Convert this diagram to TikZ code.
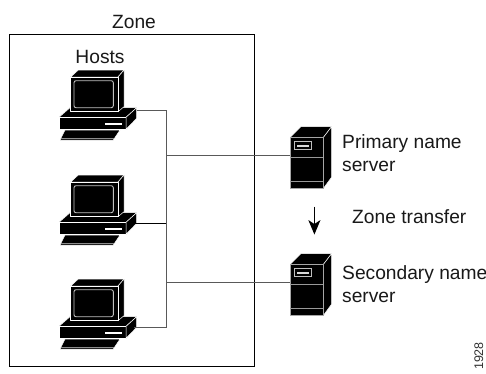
\documentclass[tikz,border=0pt]{standalone}
\usepackage{fontspec}
\setmainfont{Liberation Sans}
\tikzset{
  x=1pt,y=-1pt,
  solidblk/.style={fill=black,draw=white,line width=0.5pt,line join=round},
  whiteline/.style={draw=white!75!black,line width=0.9pt},
  wire/.style={draw=black!65,line width=0.8pt},
  lbl/.style={font=\fontsize{19.2}{23}\selectfont,inner sep=0pt,text=black!90},
  pics/hostpc/.style={code={
    \coordinate (-port) at (19.7,7.5);
    \coordinate (-low) at (17,15);
    \filldraw[solidblk] (-58,14.3)--(-47,4.7)--(19.7,4.7)--(9,14.3)--cycle;
    \filldraw[solidblk] (-58,14.3)--(9,14.3)--(9,26.3)--(-58,26.3)--cycle;
    \filldraw[solidblk] (19.7,4.7)--(19.7,15.3)--(9,26.3)--(9,14.3)--cycle;
    \fill[white] (-12,19.7) rectangle (4.7,22);
    \filldraw[solidblk] (-46.3,-26)--(-38.7,-33)--(7,-33)--(1,-26)--cycle;
    \filldraw[solidblk] (7,-33)--(7,3.7)--(1,8.7)--(1,-26)--cycle;
    \filldraw[solidblk] (-46.3,-26)--(1,-26)--(1,8.7)--(-46.3,8.7)--cycle;
    \draw[whiteline,rounded corners=2pt] (-43,-22.3) rectangle (-3.7,4.7);
    \filldraw[solidblk] (-52,27)--(3,27)--(-3.7,37)--(-57,37)--cycle;
    \draw[white!55!black,line width=1pt] (-56,35.6)--(-3,35.6);
  }},
  pics/dnssrv/.style={code={
    \coordinate (-port) at (0,17.5);
    \filldraw[solidblk] (0,0)--(11,-11)--(41.7,-11)--(33.3,0)--cycle;
    \filldraw[solidblk] (41.7,-11)--(41.7,39.5)--(33.3,51)--(33.3,0)--cycle;
    \fill[black] (0,0) rectangle (33.3,51);
    \draw[white!65!black,line width=0.9pt] (0,0) rectangle (33.3,51);
    \draw[white!60!black,line width=1pt] (0,20) -- (33.3,20) (0,43.5) -- (33.3,43.5);
    \draw[white!75!black,line width=0.9pt] (4,4.2) rectangle (21,11.8);
    \fill[white!85!black] (7,7) rectangle (18.5,9);
  }}
}
\begin{document}
\begin{tikzpicture}
\useasboundingbox (0,0) rectangle (486,373);
\fill[white] (0,0) rectangle (486,373);
\node[draw=black,line width=0.8pt,minimum width=245pt,minimum height=332pt,inner sep=0pt,anchor=north west] (zone) at (9,34) {};
\node[lbl,anchor=south] (zonelbl) at (134,29) {Zone};
\node[lbl,anchor=base] (hostslbl) at (100,63) {Hosts};
\pic (h1) at (117,103) {hostpc};
\pic (h2) at (117,208) {hostpc};
\pic (h3) at (117,312) {hostpc};
\pic (s1) at (290,137.5) {dnssrv};
\pic (s2) at (290,264.5) {dnssrv};
\coordinate (j1) at (166,110.5);
\coordinate (j2) at (166,223);
\coordinate (j3) at (166,327);
\coordinate (t1) at (166,155);
\coordinate (t2) at (166,282);
\draw[wire] (h1-port) -- (j1) -- (j3) -- (h3-low);
\draw[draw=black,line width=0.8pt] (h2-low) -- (j2);
\draw[wire] (t1) -- (s1-port);
\draw[wire] (t2) -- (s2-port);
\node[lbl,anchor=base west] (p) at (342,148) {Primary name};
\node[lbl,anchor=base west] (p2) at (342,171) {server};
\node[lbl,anchor=base west] (q) at (342,279) {Secondary name};
\node[lbl,anchor=base west] (q2) at (342,302) {server};
\node[lbl,anchor=base west] (zt) at (352,223) {Zone transfer};
\coordinate (a1) at (314.4,206.5);
\coordinate (a2) at (314.4,234.5);
\draw[black,line width=1pt] (a1) -- (314.4,225);
\fill[black] (a2) -- (308.3,220) -- (314.4,224) -- (320.5,220) -- cycle;
\node[font=\fontsize{12.5}{12}\selectfont,rotate=90,anchor=base,inner sep=0pt,text=black!80] (num) at (483,356) {1928};
\end{tikzpicture}
\end{document}
